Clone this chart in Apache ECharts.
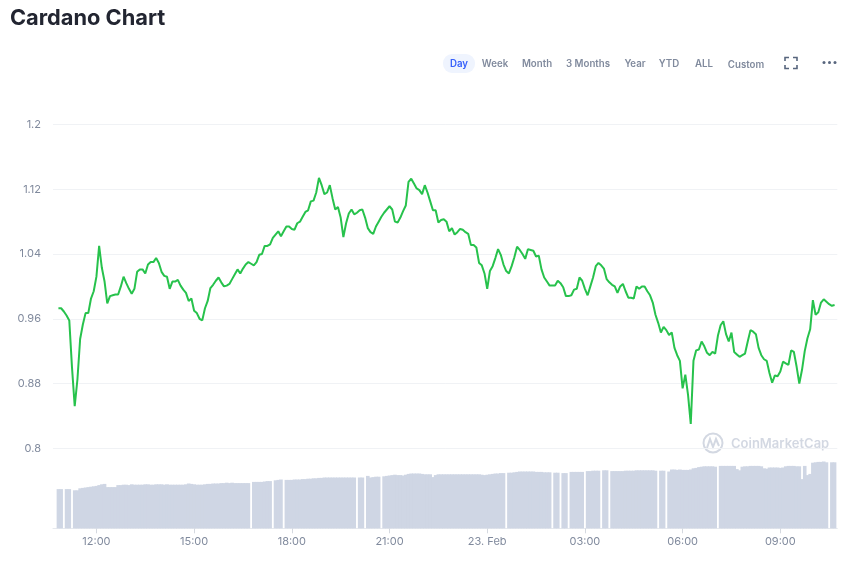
<!DOCTYPE html>
<html lang="en">

<head>
    <meta charset="utf-8">
    <title>Cardano Chart</title>
    <style>
        html, body { margin: 0; padding: 0; background: #fff; }
        #id-main-area { width: 851px; height: 563px; }
    </style>
</head>

<body>
    <div id="id-main-area"></div>
    <script src="https://cdn.jsdelivr.net/npm/echarts@6/dist/echarts.min.js"></script>
    <script>
        // ticks shown on the time axis
        var tickLabels = ['12:00', '15:00', '18:00', '21:00', '23. Feb', '03:00', '06:00', '09:00']
        var priceTicks = [0.8, 1.2, 0.08]
        var rangeButtons = [
            ['Day', 459], ['Week', 495], ['Month', 537], ['3 Months', 588],
            ['Year', 635], ['YTD', 669], ['ALL', 704], ['Custom', 746],
        ]

        // 5 minute samples, 10:40 to 10:45 the next day
        var priceValues = [
            null, null, .973, .973, .969, .964, .958, .90, .852, .885,
            .935, .953, .967, .967, .985, .994, 1.012, 1.05, 1.023, 1.006,
            .979, .988, .989, .99, .99, 1.0, 1.012, 1.004, .997, .991,
            .997, 1.018, 1.021, 1.021, 1.016, 1.027, 1.03, 1.03, 1.035, 1.029,
            1.018, 1.013, 1.012, .997, 1.006, 1.006, 1.008, 1.001, .996, .992,
            .982, .985, .97, .967, .96, .958, .973, .982, .998, 1.002,
            1.007, 1.011, 1.005, 1.0, 1.001, 1.003, 1.009, 1.015, 1.021, 1.016,
            1.022, 1.027, 1.03, 1.028, 1.026, 1.03, 1.039, 1.04, 1.05, 1.05,
            1.052, 1.06, 1.064, 1.068, 1.062, 1.068, 1.074, 1.074, 1.071, 1.07,
            1.078, 1.08, 1.086, 1.092, 1.094, 1.105, 1.106, 1.116, 1.134, 1.125,
            1.114, 1.116, 1.125, 1.109, 1.095, 1.098, 1.085, 1.061, 1.078, 1.09,
            1.095, 1.089, 1.091, 1.094, 1.095, 1.085, 1.072, 1.067, 1.065, 1.074,
            1.08, 1.086, 1.091, 1.095, 1.099, 1.095, 1.08, 1.079, 1.085, 1.093,
            1.1, 1.129, 1.133, 1.127, 1.121, 1.119, 1.114, 1.125, 1.116, 1.105,
            1.094, 1.094, 1.079, 1.082, 1.083, 1.08, 1.068, 1.072, 1.064, 1.067,
            1.071, 1.07, 1.067, 1.065, 1.051, 1.051, 1.048, 1.029, 1.026, 1.016,
            .997, 1.019, 1.025, 1.035, 1.046, 1.039, 1.027, 1.019, 1.016, 1.025,
            1.036, 1.049, 1.045, 1.04, 1.034, 1.046, 1.045, 1.044, 1.037, 1.038,
            1.021, 1.011, 1.006, 1.001, 1.001, 1.001, 1.007, 1.004, .999, .988,
            .988, .989, .996, .997, 1.011, 1.007, .997, .989, 1.0, 1.011,
            1.025, 1.029, 1.026, 1.022, 1.009, 1.005, 1.002, 1.0, .992, 1.0,
            1.003, .994, .986, .986, .985, 1.0, .997, 1.0, 1.0, .994,
            .989, .98, .965, .955, .943, .95, .946, .94, .943, .924,
            .915, .908, .874, .891, .866, .83, .908, .921, .922, .932,
            .926, .918, .915, .919, .917, .939, .952, .957, .941, .932,
            .943, .919, .916, .913, .915, .917, .932, .946, .944, .941,
            .924, .915, .91, .908, .893, .881, .89, .889, .895, .907,
            .905, .903, .921, .919, .901, .88, .897, .92, .936, .947,
            .983, .965, .968, .98, .984, .981, .978, .976, .977, null,
        ]

        // volume in billions, 0 where the feed has a hole
        var volumeValues = [
            null, null, 9.8, 9.8, 0, 9.8, 9.8, 0, 9.5, 9.5,
            10, 10.1, 10.2, 10.3, 10.4, 10.5, 10.6, 10.8, 11, 11.1,
            10.3, 10.3, 10.3, 10.3, 10.8, 10.8, 10.9, 10.9, 10.8, 11,
            10.9, 10.9, 10.9, 10.9, 11, 11, 10.9, 10.9, 11, 11,
            11, 10.9, 11, 10.9, 10.9, 10.9, 10.9, 10.9, 10.9, 11,
            11.2, 11.1, 11, 10.9, 10.9, 10.9, 11, 11.1, 11.1, 11.2,
            11.2, 11.2, 11.3, 11.3, 11.4, 11.3, 11.4, 11.3, 11.3, 11.3,
            11.3, 11.3, 11.3, 0, 11.6, 11.6, 11.6, 11.6, 11.7, 11.8,
            11.8, 0, 12, 12.1, 12.2, 0, 12.1, 12.1, 12.1, 12.2,
            12.2, 12.2, 12.3, 12.3, 12.4, 12.4, 12.5, 12.5, 12.6, 12.6,
            12.7, 12.7, 12.7, 12.7, 12.7, 12.7, 12.7, 12.7, 12.7, 12.7,
            12.7, 12.7, 0, 12.7, 12.7, 0, 13.1, 12.7, 12.8, 12.9,
            12.9, 0, 13, 13.1, 13.2, 13.3, 13.4, 13.3, 13.3, 13.2,
            13.4, 13.6, 13.7, 13.7, 13.7, 13.7, 13.6, 13.5, 13.5, 13.5,
            12.8, 13.3, 13.5, 13.5, 13.5, 13.5, 13.5, 13.5, 13.5, 13.5,
            13.5, 13.5, 13.5, 13.5, 13.5, 13.5, 13.5, 13.5, 13.4, 13.3,
            13.4, 13.5, 13.6, 13.7, 13.7, 13.8, 13.8, 0, 13.9, 13.9,
            14, 14.1, 14.2, 14.2, 14.2, 14.2, 14.2, 14.2, 14.1, 14.1,
            14.1, 14, 14, 14, 0, 13.9, 13.9, 0, 13.8, 13.8,
            0, 14.1, 14.1, 14.1, 14.1, 14.1, 0, 14.3, 14.3, 14.4,
            14.4, 14.4, 0, 14.5, 14.5, 0, 14.3, 14.3, 14.3, 14.3,
            14.3, 14.4, 14.4, 14.4, 14.4, 14.5, 14.5, 14.5, 14.5, 14.5,
            14.5, 14.5, 14.4, 0, 14.4, 14.4, 0, 14.2, 14.7, 14.7,
            14.6, 14.7, 14.6, 14.6, 14.6, 14.7, 15, 15.1, 15.3, 15.4,
            15.5, 15.5, 15.5, 15.5, 15.4, 0, 15.6, 15.6, 15.6, 15.6,
            15.6, 15.6, 14.8, 14.5, 15.4, 15.5, 15.5, 15.6, 15.6, 15.6,
            15.6, 15.5, 15, 14.9, 15.2, 15.2, 15.2, 15.2, 15.1, 15.2,
            15.5, 15.6, 15.6, 15.6, 15.5, 15.5, 12.3, 15.6, 13.3, 13.6,
            16.4, 16.5, 16.6, 16.6, 16.7, 16.5, 0, 16.5, 16.5, null,
        ]

        var fontName = 'Inter'
        var labelColor = '#808a9d'

        var timeCategories = () => {
            var l = []
            for (var i = 0; i < priceValues.length; i++) {
                var m = (640 + i * 5) % 1440
                var h = Math.floor(m / 60)
                var t = String(h).padStart(2, '0') + ':' + String(m % 60).padStart(2, '0')
                l.push(t == '00:00' ? '23. Feb' : t)
            }
            return l
        }

        var isTick = (index, name) => tickLabels.includes(name)

        var buttonGraphics = () => {
            var l = [{
                type: 'rect',
                shape: { x: 443, y: 54, width: 32, height: 19, r: 9 },
                style: { fill: '#eff4fe' },
            }]
            for (var i = 0; i < rangeButtons.length; i++) {
                var b = rangeButtons[i]
                l.push({
                    type: 'text',
                    x: b[1],
                    y: b[0] == 'Custom' ? 65 : 64,
                    style: {
                        text: b[0],
                        align: 'center',
                        verticalAlign: 'middle',
                        font: '600 9.7px ' + fontName,
                        fill: i == 0 ? '#3861fb' : labelColor,
                    },
                })
            }
            return l
        }

        var iconGraphics = () => {
            var corner = (points) => ({
                type: 'polyline',
                shape: { points: points },
                style: { fill: 'none', stroke: '#58667e', lineWidth: 1.6 },
            })
            var dot = (x) => ({
                type: 'circle',
                shape: { cx: x, cy: 62.5, r: 1.5 },
                style: { fill: '#58667e' },
            })
            return [
                corner([[785, 61], [785, 57.5], [789, 57.5]]),
                corner([[793, 57.5], [797, 57.5], [797, 61]]),
                corner([[785, 65], [785, 68.5], [789, 68.5]]),
                corner([[793, 68.5], [797, 68.5], [797, 65]]),
                dot(824), dot(829.5), dot(835),
            ]
        }

        var watermarkGraphics = () => [
            {
                type: 'circle',
                shape: { cx: 713, cy: 443, r: 9.5 },
                style: { fill: 'none', stroke: '#d3d8e2', lineWidth: 2 },
            },
            {
                type: 'polyline',
                shape: { points: [[707, 448], [710, 439], [713, 447], [716, 439], [719, 446]] },
                style: { fill: 'none', stroke: '#d3d8e2', lineWidth: 2 },
            },
            {
                type: 'text',
                x: 731,
                y: 444,
                style: {
                    text: 'CoinMarketCap',
                    verticalAlign: 'middle',
                    font: '600 13px ' + fontName,
                    fill: '#d3d8e2',
                },
            },
        ]

        var showChart = () => {
            var element = document.querySelector('#id-main-area')
            var myChart = echarts.init(element)
            var times = timeCategories()
            var option = {
                animation: false,
                backgroundColor: '#fff',
                title: {
                    text: 'Cardano Chart',
                    left: 5,
                    top: 2,
                    textStyle: { fontFamily: fontName, fontSize: 21.8, fontWeight: 700, color: '#222531' },
                },
                graphic: buttonGraphics().concat(iconGraphics(), watermarkGraphics()),
                grid: [
                    { left: 53, right: 13.7, top: 124.5, height: 323.8 },
                    { left: 53, right: 13.7, top: 448.3, height: 80 },
                ],
                xAxis: [
                    {
                        type: 'category',
                        gridIndex: 0,
                        data: times,
                        boundaryGap: false,
                        axisLine: { show: false },
                        axisTick: { show: false },
                        axisLabel: { show: false },
                    },
                    {
                        type: 'category',
                        gridIndex: 1,
                        data: times,
                        boundaryGap: false,
                        axisLine: { lineStyle: { color: '#e6e9ee' } },
                        axisTick: { interval: isTick, length: 5, lineStyle: { color: '#d5d9e0' } },
                        axisLabel: {
                            interval: isTick,
                            color: labelColor,
                            fontFamily: fontName,
                            fontSize: 11,
                            margin: 8,
                        },
                    },
                ],
                yAxis: [
                    {
                        type: 'value',
                        gridIndex: 0,
                        min: priceTicks[0],
                        max: priceTicks[1],
                        interval: priceTicks[2],
                        axisLine: { show: false },
                        axisTick: { show: false },
                        splitLine: { lineStyle: { color: '#f0f2f5' } },
                        axisLabel: {
                            color: labelColor,
                            fontFamily: fontName,
                            fontSize: 11,
                            margin: 12,
                            formatter: (v) => String(parseFloat(v.toFixed(2))),
                        },
                    },
                    {
                        type: 'value',
                        gridIndex: 1,
                        min: 0,
                        max: 20,
                        show: false,
                    },
                ],
                series: [
                    {
                        type: 'bar',
                        xAxisIndex: 1,
                        yAxisIndex: 1,
                        data: volumeValues,
                        barWidth: 3.6,
                        itemStyle: { color: '#cfd6e4' },
                        silent: true,
                    },
                    {
                        type: 'line',
                        xAxisIndex: 0,
                        yAxisIndex: 0,
                        data: priceValues,
                        showSymbol: false,
                        smooth: false,
                        lineStyle: { color: '#27c24c', width: 2 },
                        z: 5,
                    },
                ],
            }
            myChart.setOption(option, true)
        }

        var __main = () => {
            showChart()
        }

        __main()
    </script>
</body>

</html>
